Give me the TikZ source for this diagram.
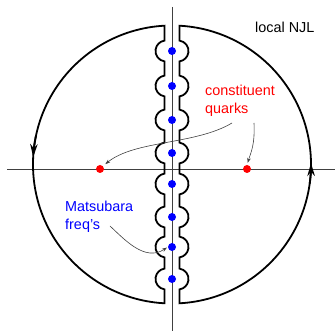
\documentclass[tikz,border=0pt]{standalone}
\usepackage{fontspec}
\setmainfont{Liberation Sans}
\usetikzlibrary{arrows.meta}
\begin{document}
\begin{tikzpicture}[x=1pt,y=1pt,
  contour/.style={line width=1.8pt, black},
  axisline/.style={line width=0.8pt, black!75},
  conn/.style={line width=0.6pt, black!75, -{Stealth[length=5pt,width=3.5pt]}},
  cntip/.style={line width=1.8pt, black, -{Stealth[length=13pt,width=7.5pt]}},
  bdot/.style={circle, fill=blue, inner sep=0pt, minimum size=8pt},
  rdot/.style={circle, fill=red, inner sep=0pt, minimum size=8pt},
  lbl/.style={anchor=base west, inner sep=0pt, font=\fontsize{14.4}{17}\selectfont}]
\useasboundingbox (0,0) rectangle (335,-331);

% axes
\coordinate (hL) at (7,-169);
\coordinate (hR) at (335,-169);
\coordinate (vT) at (172,-7);
\coordinate (vB) at (172,-331);
\draw[axisline] (hL) -- (hR);
\draw[axisline] (vT) -- (vB);

% left half of contour
\draw[contour] (164.5,-25.7) arc[start angle=93.09, end angle=266.91, radius=139]
  -- (164.5,-289.39) arc[start angle=261.8, end angle=98.2, radius=10.5]
  -- (164.5,-257.39) arc[start angle=261.8, end angle=98.2, radius=10.5]
  -- (164.5,-227.39) arc[start angle=261.8, end angle=98.2, radius=10.5]
  -- (164.5,-194.39) arc[start angle=261.8, end angle=98.2, radius=10.5]
  -- (164.5,-163.39) arc[start angle=261.8, end angle=98.2, radius=10.5]
  -- (164.5,-130.39) arc[start angle=261.8, end angle=98.2, radius=10.5]
  -- (164.5,-96.39) arc[start angle=261.8, end angle=98.2, radius=10.5]
  -- (164.5,-61.39) arc[start angle=261.8, end angle=98.2, radius=10.5]
  -- cycle;

% right half of contour
\draw[contour] (179.5,-303.3) arc[start angle=-86.91, end angle=86.91, radius=139]
  -- (179.5,-40.61) arc[start angle=81.8, end angle=-81.8, radius=10.5]
  -- (179.5,-75.61) arc[start angle=81.8, end angle=-81.8, radius=10.5]
  -- (179.5,-109.61) arc[start angle=81.8, end angle=-81.8, radius=10.5]
  -- (179.5,-142.61) arc[start angle=81.8, end angle=-81.8, radius=10.5]
  -- (179.5,-173.61) arc[start angle=81.8, end angle=-81.8, radius=10.5]
  -- (179.5,-206.61) arc[start angle=81.8, end angle=-81.8, radius=10.5]
  -- (179.5,-236.61) arc[start angle=81.8, end angle=-81.8, radius=10.5]
  -- (179.5,-268.61) arc[start angle=81.8, end angle=-81.8, radius=10.5]
  -- cycle;

% direction arrows on the contour
\draw[cntip] (172,-164.5) ++(168:139) arc[start angle=168, end angle=176.9, radius=139];
\draw[cntip] (172,-164.5) ++(-8:139) arc[start angle=-8, end angle=0.6, radius=139];

% Matsubara frequencies
\node[bdot] (m1) at (172,-51) {};
\node[bdot] (m2) at (172,-86) {};
\node[bdot] (m3) at (172,-120) {};
\node[bdot] (m4) at (172,-153) {};
\node[bdot] (m5) at (172,-184) {};
\node[bdot] (m6) at (172,-217) {};
\node[bdot] (m7) at (172,-247) {};
\node[bdot] (m8) at (172,-279) {};

% constituent quark poles
\node[rdot] (qL) at (100,-169) {};
\node[rdot] (qR) at (247,-169) {};

% labels
\node[lbl] (njl) at (255,-32.5) {local NJL};
\node[lbl, text=red] (cq1) at (205,-96) {constituent};
\node[lbl, text=red] (cq2) at (205,-113.5) {quarks};
\node[lbl, text=blue] (mf1) at (65,-211.5) {Matsubara};
\node[lbl, text=blue] (mf2) at (65,-229.5) {freq's};

% connectors
\coordinate (s1) at (254,-123);
\coordinate (s2) at (232,-123);
\coordinate (s3) at (110,-226);
\draw[conn, shorten >=2pt] (s1) .. controls (255,-145) and (251,-152) .. (qR.north);
\draw[conn, shorten >=3pt] (s2) .. controls (195,-145) and (135,-140) .. (qL.north east);
\draw[conn, shorten >=1pt] (s3) .. controls (125,-240) and (145,-262) .. (m7.west);
\end{tikzpicture}
\end{document}
